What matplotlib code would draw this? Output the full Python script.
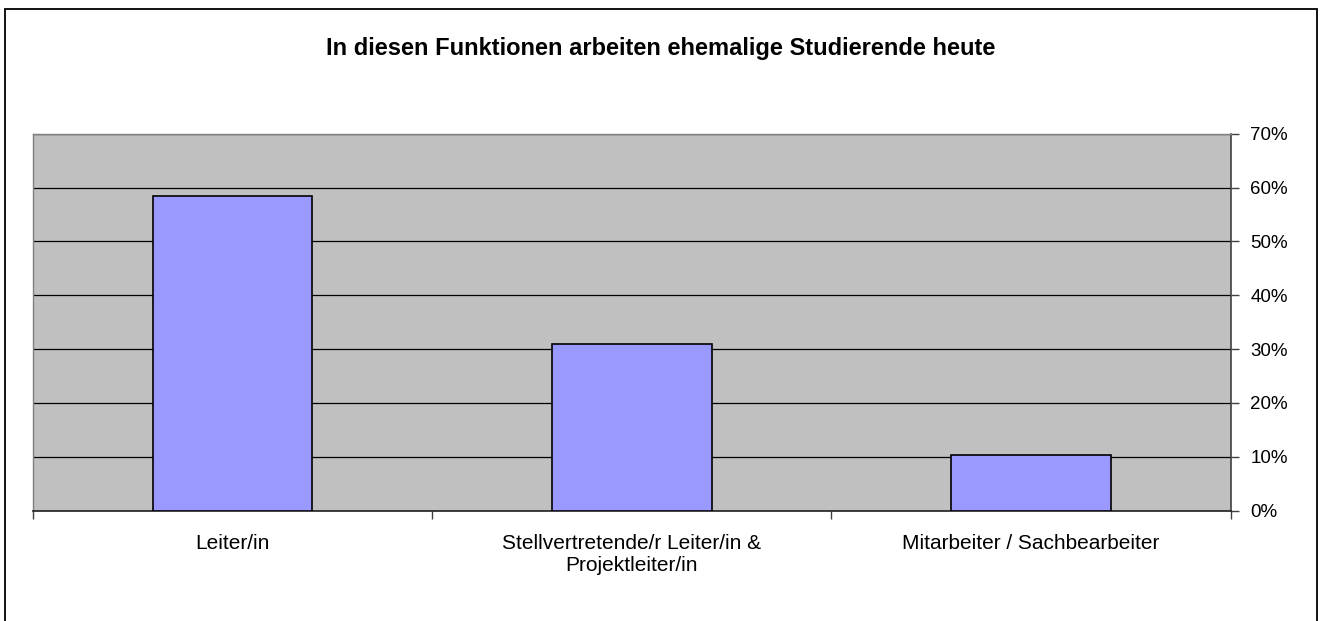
import numpy as np
import matplotlib
matplotlib.use('Agg')
import matplotlib.pyplot as plt
from matplotlib.patches import Rectangle
from matplotlib.ticker import FixedLocator

plt.rcParams['font.family'] = ['Liberation Sans', 'DejaVu Sans']

# daten
kategorien = ['Leiter/in', 'Stellvertretende/r Leiter/in &\nProjektleiter/in', 'Mitarbeiter / Sachbearbeiter']
anteile = [58.5, 31.0, 10.4]
y_ticks = [0, 10, 20, 30, 40, 50, 60, 70]
y_labels = ['0%', '10%', '20%', '30%', '40%', '50%', '60%', '70%']
titel = 'In diesen Funktionen arbeiten ehemalige Studierende heute'

W, H = 1321, 621
fig = plt.figure(figsize=(W / 100, H / 100), dpi=100)
ax = fig.add_axes([33 / W, 1 - 510.7 / H, (1230.7 - 33) / W, (510.7 - 133.7) / H])

x = np.arange(len(kategorien))
ax.set_facecolor('#C0C0C0')
ax.set_axisbelow(True)
ax.bar(x, anteile, width=0.4, color='#9999FF', edgecolor='black', linewidth=1.2, zorder=3)

ax.set_xlim(-0.5, len(kategorien) - 0.5)
ax.set_ylim(0, 70)

# y achse rechts
ax.yaxis.tick_right()
ax.set_yticks(y_ticks)
ax.set_yticklabels(y_labels, fontsize=13.5)
ax.tick_params(axis='y', direction='out', length=6, width=1, pad=8, color='#404040')
ax.grid(axis='y', color='black', linewidth=0.9)

# x ticks an kategoriegrenzen
ax.xaxis.set_major_locator(FixedLocator(np.arange(len(kategorien) + 1) - 0.5))
ax.set_xticklabels([])
ax.set_xticks(x, minor=True)
ax.set_xticklabels(kategorien, minor=True, fontsize=15, linespacing=1.15)
ax.tick_params(axis='x', which='major', direction='out', length=6, width=1, color='#404040')
ax.tick_params(axis='x', which='minor', length=0, pad=17)

for s in ['left', 'top']:
    ax.spines[s].set_color('#808080')
    ax.spines[s].set_linewidth(1)
ax.spines['right'].set_color('#404040')
ax.spines['bottom'].set_color('#202020')
ax.spines['right'].set_linewidth(1.2)
ax.spines['bottom'].set_linewidth(1.2)

fig.text(0.5, 1 - 49 / H, titel, ha='center', va='center', fontsize=17, fontweight='bold')

# rahmen um das diagramm
fig.patches.append(Rectangle((5 / W, -0.1), (1317 - 5) / W, (H - 8.7) / H + 0.1,
                             transform=fig.transFigure, fill=False, edgecolor='black', linewidth=1.3))

fig.savefig('out.png', dpi=100)
